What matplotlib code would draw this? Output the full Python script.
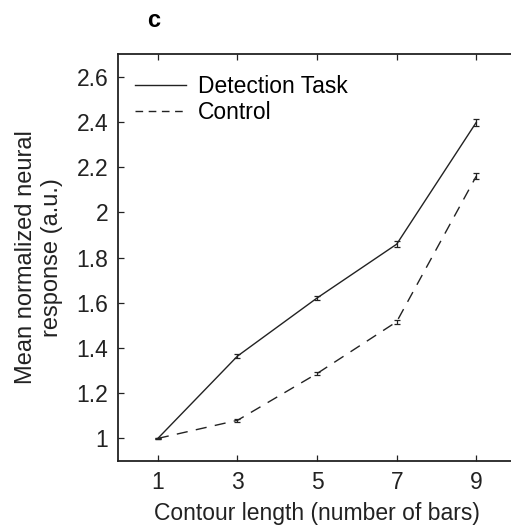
import matplotlib
matplotlib.use("Agg")
import matplotlib.pyplot as plt
from matplotlib.lines import Line2D

plt.rcParams["font.family"] = ["Liberation Sans", "DejaVu Sans"]

# Contour length (number of bars)
lengths = [1, 3, 5, 7, 9]

# Mean normalized response and error per condition
detection = [1.0, 1.364, 1.621, 1.859, 2.398]
detection_err = [0.004, 0.010, 0.008, 0.013, 0.015]
control = [1.0, 1.080, 1.287, 1.516, 2.160]
control_err = [0.004, 0.007, 0.007, 0.008, 0.013]

yticks = [1, 1.2, 1.4, 1.6, 1.8, 2, 2.2, 2.4, 2.6]
ytick_labels = ["1", "1.2", "1.4", "1.6", "1.8", "2", "2.2", "2.4", "2.6"]

fs = 16.5
col = "#222222"
dash = (8, 6)

fig = plt.figure(figsize=(5.11, 5.29), dpi=100)
ax = fig.add_axes([0.231, 0.1285, 0.779, 0.7694])

ax.errorbar(lengths, detection, yerr=detection_err, color=col, lw=1.0,
            capsize=2.5, elinewidth=0.9, capthick=0.9)
line, _, _ = ax.errorbar(lengths, control, yerr=control_err, color=col, lw=1.0,
                         capsize=2.5, elinewidth=0.9, capthick=0.9)
line.set_dashes(dash)

ax.set_xlim(0, 10)
ax.set_ylim(0.9, 2.7)
ax.set_xticks(lengths)
ax.set_yticks(yticks)
ax.set_yticklabels(ytick_labels)
ax.spines["right"].set_visible(False)
for s in ["left", "bottom", "top"]:
    ax.spines[s].set_linewidth(1.3)
    ax.spines[s].set_color(col)
ax.tick_params(direction="in", length=4, width=0.9, labelsize=fs,
               colors=col, top=True, right=False, pad=7)

ax.set_xlabel("Contour length (number of bars)", fontsize=fs, color=col, labelpad=6)
ax.set_ylabel("Mean normalized neural\nresponse (a.u.)", fontsize=17, color=col,
              labelpad=10)

handles = [Line2D([], [], color=col, lw=1.0),
           Line2D([], [], color=col, lw=1.0, dashes=(5.5, 4))]
ax.legend(handles, ["Detection Task", "Control"], loc="upper left",
          frameon=False, fontsize=fs, handlelength=2.2, handletextpad=0.55,
          labelspacing=0.15, borderaxespad=0.0, bbox_to_anchor=(0.02, 0.972))

fig.text(0.30, 0.962, "c", fontsize=17, fontweight="bold", ha="center", va="center")

fig.savefig("out.png", dpi=100)
